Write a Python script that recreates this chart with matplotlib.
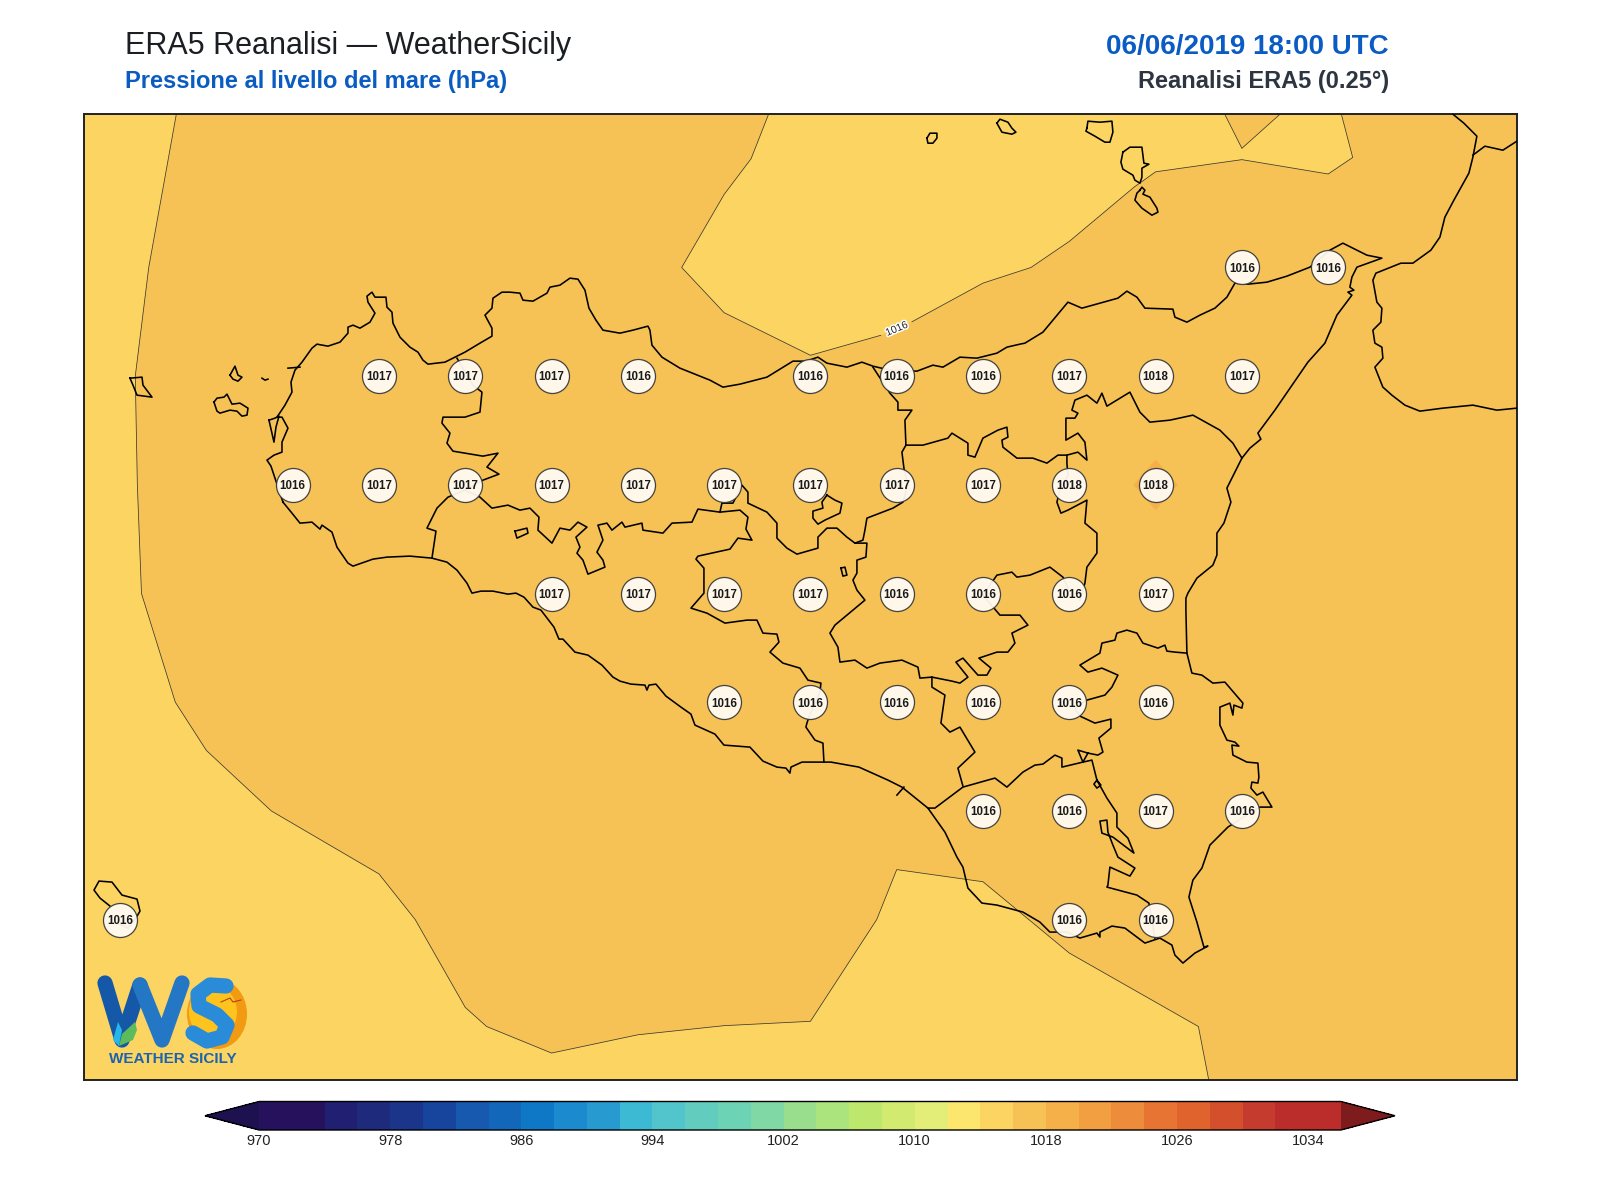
import matplotlib
matplotlib.use('Agg')
import matplotlib.pyplot as plt
import matplotlib.patheffects as pe
from matplotlib.cm import ScalarMappable
from matplotlib.colors import BoundaryNorm, ListedColormap
from matplotlib.patches import Ellipse
import numpy as np

plt.rcParams['font.family'] = ['Liberation Sans', 'DejaVu Sans']

# ERA5 grid points with the printed pressure (hPa)
STATION_LON = [15.25, 15.5,
               12.75, 13.0, 13.25, 13.5, 14.0, 14.25, 14.5, 14.75, 15.0, 15.25,
               12.5, 12.75, 13.0, 13.25, 13.5, 13.75, 14.0, 14.25, 14.5, 14.75, 15.0,
               13.25, 13.5, 13.75, 14.0, 14.25, 14.5, 14.75, 15.0,
               13.75, 14.0, 14.25, 14.5, 14.75, 15.0,
               14.5, 14.75, 15.0, 15.25,
               12.0, 14.75, 15.0]
STATION_LAT = [38.25] * 2 + [38.0] * 10 + [37.75] * 11 + [37.5] * 8 + [37.25] * 6 + [37.0] * 4 + [36.75] * 3
STATION_HPA = [1016, 1016,
               1017, 1017, 1017, 1016, 1016, 1016, 1016, 1017, 1018, 1017,
               1016, 1017, 1017, 1017, 1017, 1017, 1017, 1017, 1017, 1018, 1018,
               1017, 1017, 1017, 1017, 1016, 1016, 1016, 1017,
               1016, 1016, 1016, 1016, 1016, 1016,
               1016, 1016, 1017, 1016,
               1016, 1016, 1016]

# colour scale
LEVELS = list(range(970, 1038, 2))
TICKS = list(range(970, 1036, 8))
COLORS = ['#26125C', '#26125C', '#211F72', '#1E2A7C', '#1A3589', '#17459E', '#1659AE', '#1367BB',
          '#0E78C7', '#1B8ACF', '#279BD0', '#3CB9D3', '#52C4CB', '#62CDBF', '#6DD3B5', '#80D9A4',
          '#99DE8C', '#ABE37C', '#BEE76D', '#D2EA70', '#E2EE77', '#FCE66E', '#FCD462', '#F6C255',
          '#F5B04A', '#F29F42', '#ED8C3B', '#E77432', '#E0622D', '#D4502C', '#C53B2D', '#BB2D2B',
          '#BB2D2B']
UNDER_COLOR = '#1E1150'
OVER_COLOR = '#7E1B1C'

LON_MIN, LON_MAX = 11.894, 16.047
LAT_MIN, LAT_MAX = 36.381, 38.603

# 1016 hPa isobar, west and south side
WEST_LON = [12.163, 12.083, 12.044, 12.05, 12.062, 12.16, 12.25, 12.438, 12.75, 12.855, 13.0, 13.062,
            13.25, 13.5, 13.75, 14.0, 14.192, 14.25, 14.5, 14.75, 15.124, 15.154]
WEST_LAT = [38.603, 38.25, 38.0, 37.75, 37.5, 37.25, 37.139, 37.0, 36.855, 36.75, 36.548, 36.504,
            36.443, 36.485, 36.506, 36.516, 36.75, 36.865, 36.837, 36.673, 36.504, 36.381]
# 1016 hPa isobar, Tyrrhenian side; the gap for the contour label is between 14.204 and 14.294
NORTH_LON = [13.879, 13.828, 13.75, 13.627, 13.75, 14.0, 14.204, 14.294, 14.5, 14.639, 14.75, 14.938,
             15.0, 15.25, 15.5, 15.571, 15.538]
NORTH_LAT = [38.603, 38.5, 38.418, 38.25, 38.146, 38.048, 38.094, 38.125, 38.214, 38.25, 38.31, 38.435,
             38.47, 38.498, 38.465, 38.503, 38.603]
WEDGE_LON = [15.361, 15.25, 15.2]
WEDGE_LAT = [38.603, 38.524, 38.603]
LABEL_LON, LABEL_LAT, LABEL_HPA = 14.25, 38.109, 1016
# small 1018 hPa cell around one grid point
CELL_LON = [15.0, 15.064, 15.0, 14.936]
CELL_LAT = [37.808, 37.75, 37.692, 37.75]

# coast and province outlines, digitised in map sheet units and georeferenced below
COAST = [(283, 502), (271, 466), (267, 460), (274, 455), (282, 452), (282, 442), (288, 428), (282, 417), (277, 417),
         (285, 405), (292, 392), (291, 382), (295, 370), (302, 362), (312, 348), (317, 344), (328, 346), (340, 342),
         (348, 333), (348, 327), (353, 325), (360, 328), (370, 322), (375, 313), (368, 302), (367, 296), (372, 292),
         (375, 297), (386, 297), (387, 307), (392, 312), (393, 323), (400, 337), (410, 347), (418, 352), (423, 360),
         (428, 364), (445, 362), (465, 352), (480, 343), (492, 336), (492, 328), (485, 315), (492, 308), (493, 298),
         (502, 292), (510, 292), (520, 293), (523, 300), (533, 301), (547, 293), (550, 287), (560, 285), (570, 278),
         (578, 279), (585, 290), (589, 308), (596, 320), (603, 330), (620, 333), (633, 330), (648, 326), (650, 330),
         (652, 345), (662, 357), (680, 368), (710, 380), (723, 387), (740, 384), (767, 377), (793, 361), (806, 361),
         (818, 357), (827, 363), (847, 367), (862, 362), (873, 366), (890, 370), (917, 371), (933, 365), (943, 367),
         (960, 357), (977, 358), (997, 353), (1007, 347), (1020, 344), (1025, 343), (1043, 332), (1068, 302),
         (1082, 308), (1107, 301), (1118, 298), (1127, 291), (1137, 297), (1145, 308), (1173, 309), (1175, 317),
         (1187, 322), (1200, 315), (1215, 308), (1227, 297), (1235, 283), (1248, 284), (1267, 282), (1287, 276),
         (1310, 267), (1330, 250), (1343, 243), (1353, 248), (1367, 255), (1382, 258), (1357, 267), (1352, 277),
         (1350, 287), (1354, 290), (1348, 292), (1352, 295), (1337, 315), (1325, 343), (1308, 362), (1275, 410),
         (1258, 433), (1261, 439), (1250, 448), (1242, 458), (1227, 488), (1231, 502), (1224, 523), (1217, 533),
         (1217, 555), (1213, 565), (1197, 578), (1188, 593), (1186, 598), (1186, 610), (1187, 653), (1192, 673),
         (1202, 675), (1213, 683), (1225, 682), (1243, 703), (1242, 708), (1234, 705), (1233, 715), (1230, 703),
         (1220, 707), (1220, 725), (1227, 740), (1235, 742), (1239, 746), (1232, 745), (1233, 755), (1247, 762),
         (1258, 763), (1259, 777), (1258, 783), (1252, 782), (1251, 788), (1257, 795), (1263, 792), (1272, 807),
         (1260, 807), (1245, 816), (1228, 827), (1210, 845), (1202, 868), (1193, 880), (1189, 897), (1197, 922),
         (1204, 947), (1208, 946), (1195, 953), (1183, 963), (1175, 955), (1172, 945), (1160, 938), (1145, 943),
         (1125, 928), (1112, 926), (1100, 932), (1100, 937), (1097, 933), (1080, 938), (1067, 932), (1050, 932),
         (1040, 922), (1023, 912), (997, 905), (982, 903), (968, 888), (963, 867), (957, 857), (945, 832), (928, 808),
         (902, 787), (888, 780), (859, 767), (831, 762), (824, 762), (802, 762), (791, 767), (790, 773), (786, 768),
         (777, 767), (763, 761), (750, 747), (724, 745), (715, 734), (695, 725), (691, 714), (681, 707), (666, 696),
         (656, 684), (649, 685), (647, 690), (645, 685), (631, 684), (620, 681), (613, 677), (602, 665), (588, 655),
         (575, 652), (563, 639), (559, 639), (554, 627), (541, 610), (533, 607), (524, 597), (516, 593), (508, 594),
         (493, 591), (481, 591), (472, 593), (467, 583), (457, 570), (447, 562), (432, 558), (410, 556), (387, 557),
         (373, 559), (353, 566), (348, 563), (337, 547), (332, 532), (322, 525), (320, 529), (312, 522), (300, 523),
         (292, 513), (283, 502)]
STAGNONE = [(269, 420), (275, 418), (279, 416), (276, 427), (274, 442), (269, 420)]
TRAPANI_SPIT = [(288, 368), (300, 367)]
PUNTA_TICK = [(897, 795), (904, 787)]

TRAPANI_PALERMO = [(457, 358), (473, 385), (482, 392), (480, 412), (465, 417), (443, 417), (442, 423), (450, 433),
                   (447, 443), (453, 451), (483, 456), (498, 453), (487, 467), (499, 474), (483, 480), (465, 490),
                   (448, 497), (437, 508), (427, 528), (436, 531), (432, 558)]
PALERMO_SOUTH = [(465, 490), (480, 497), (492, 508), (508, 505), (520, 510), (530, 508), (539, 517), (538, 530),
                 (552, 543), (560, 528), (570, 530), (578, 522), (587, 527), (576, 537), (580, 547), (577, 553),
                 (583, 560), (588, 574), (605, 567), (603, 560), (597, 552), (603, 540), (598, 525), (607, 523),
                 (612, 530), (622, 522), (625, 527), (642, 523), (643, 530), (663, 533), (672, 523), (692, 522),
                 (698, 509), (720, 512), (740, 510), (748, 517), (746, 529), (752, 540), (738, 538), (730, 549),
                 (698, 556), (696, 559), (704, 568), (704, 593), (691, 608), (707, 613), (725, 623), (747, 620),
                 (757, 620), (763, 633), (777, 634), (779, 642), (770, 652), (783, 663), (800, 668), (808, 680),
                 (821, 683), (820, 692), (809, 717), (807, 723), (806, 727), (815, 740), (823, 743), (824, 762)]
PALERMO_ENNA = [(720, 512), (722, 503), (733, 503), (742, 485), (748, 492), (748, 503), (767, 512), (777, 523),
                (777, 538), (787, 548), (797, 554), (818, 548), (818, 537), (827, 528), (837, 528), (847, 537),
                (855, 543), (867, 543), (866, 557), (857, 560), (857, 573), (853, 580), (857, 590), (865, 600),
                (853, 610), (835, 625), (830, 633), (838, 647), (840, 662), (855, 660), (867, 668), (880, 663),
                (902, 660), (918, 667), (920, 678), (932, 677), (952, 681), (960, 683), (968, 677), (956, 662),
                (963, 658), (978, 675), (987, 675), (991, 668), (979, 658), (997, 652), (1008, 652), (1015, 643),
                (1012, 633), (1028, 625), (1020, 615), (1000, 615), (983, 595), (997, 575), (1012, 572), (1017, 577),
                (1030, 575), (1050, 567), (1063, 577), (1069, 590)]
ENCLAVE = [(827, 495), (835, 500), (842, 503), (840, 513), (825, 520), (818, 524), (813, 518), (813, 511), (823, 508),
           (822, 502), (827, 495)]
LAKE = [(841, 568), (845, 567), (847, 575), (843, 576), (841, 568)]
SMALL_ENCLAVE = [(515, 531), (527, 528), (528, 533), (517, 538), (515, 531)]
MESSINA_WEST = [(873, 367), (890, 393), (898, 402), (898, 410), (912, 410), (905, 420), (906, 445), (902, 452),
                (904, 468), (908, 485), (903, 502), (893, 508), (867, 518), (865, 530), (863, 540), (855, 543)]
MESSINA_SOUTH = [(906, 445), (923, 445), (948, 438), (952, 433), (968, 443), (968, 455), (975, 457), (983, 438),
                 (998, 430), (1007, 427), (1008, 437), (1002, 440), (1003, 447), (1017, 458), (1033, 458), (1047, 463),
                 (1058, 455), (1067, 455), (1078, 452), (1087, 460), (1085, 442), (1078, 433), (1066, 440), (1066, 418),
                 (1075, 418), (1078, 413), (1072, 410), (1075, 400), (1087, 395), (1097, 403), (1102, 393), (1107, 406),
                 (1130, 392), (1140, 412), (1150, 422), (1170, 420), (1193, 415), (1220, 430), (1233, 443), (1242, 458)]
CATANIA_WEST = [(1067, 455), (1067, 463), (1068, 475), (1060, 490), (1057, 502), (1061, 513), (1068, 510), (1087, 500),
                (1085, 523), (1097, 533), (1097, 553), (1087, 567), (1085, 583), (1080, 600)]
CATANIA_SOUTH = [(1187, 653), (1175, 652), (1167, 651), (1165, 645), (1158, 648), (1143, 643), (1137, 633), (1127, 630),
                 (1117, 633), (1115, 640), (1102, 643), (1100, 653), (1080, 665), (1088, 672), (1102, 668), (1118, 675),
                 (1112, 687), (1105, 695), (1087, 700), (1075, 708), (1080, 716), (1095, 723), (1111, 719), (1111, 728),
                 (1099, 738), (1103, 752), (1098, 755), (1088, 753), (1083, 762), (1078, 750), (1088, 753)]
RAGUSA_NORTH = [(1083, 762), (1062, 767), (1062, 758), (1055, 755), (1043, 764), (1035, 765), (1023, 772), (1007, 787),
                (995, 778), (963, 787), (935, 808), (928, 808)]
CALTANISSETTA_EAST = [(963, 786), (958, 768), (975, 752), (960, 727), (950, 732), (941, 723), (945, 695), (932, 687),
                      (932, 677)]
SIRACUSA_WEST = [(1083, 762), (1092, 760), (1097, 780), (1094, 784), (1097, 788), (1101, 785), (1097, 780), (1107, 798),
                 (1117, 813), (1117, 827), (1128, 838), (1134, 853), (1113, 837), (1102, 833), (1100, 821), (1107, 820),
                 (1108, 832), (1113, 845), (1118, 857), (1135, 868), (1130, 876), (1110, 867), (1108, 885), (1107, 887),
                 (1137, 895), (1149, 903), (1152, 920), (1155, 938)]

CALABRIA = [(1453, 114), (1464, 123), (1477, 136), (1473, 157), (1469, 173), (1454, 200), (1445, 217), (1440, 237),
            (1431, 250), (1413, 263), (1401, 263), (1376, 273), (1373, 280), (1377, 302), (1382, 308), (1381, 322),
            (1373, 330), (1375, 343), (1382, 347), (1383, 358), (1375, 367), (1383, 387), (1392, 395), (1405, 405),
            (1420, 411), (1443, 408), (1473, 405), (1497, 410), (1517, 408)]
CALABRIA_BORDER = [(1473, 155), (1485, 146), (1503, 150), (1517, 141)]

ALICUDI = [(927, 138), (930, 133), (937, 133), (937, 138), (933, 143), (928, 143), (927, 138)]
FILICUDI = [(997, 123), (1000, 119), (1008, 122), (1012, 128), (1016, 132), (1012, 134), (1002, 132), (997, 123)]
SALINA = [(1087, 128), (1088, 121), (1100, 122), (1112, 121), (1113, 132), (1110, 142), (1105, 142), (1095, 136),
          (1086, 131), (1087, 128)]
LIPARI = [(1123, 152), (1130, 147), (1142, 147), (1143, 155), (1144, 163), (1149, 164), (1142, 168), (1142, 177),
          (1140, 183), (1135, 180), (1133, 175), (1123, 169), (1121, 162), (1123, 152)]
VULCANO = [(1140, 190), (1142, 187), (1145, 190), (1143, 194), (1150, 197), (1157, 208), (1158, 212), (1152, 215),
           (1142, 208), (1135, 200), (1137, 193), (1140, 190)]
MARETTIMO = [(130, 378), (142, 377), (143, 385), (152, 397), (137, 395), (133, 385), (130, 378)]
LEVANZO = [(230, 375), (235, 366), (238, 375), (242, 377), (238, 381), (233, 379), (230, 375)]
FAVIGNANA = [(214, 402), (217, 398), (224, 397), (227, 394), (232, 404), (240, 403), (248, 408), (247, 415), (242, 416),
             (237, 411), (230, 410), (220, 413), (217, 411), (214, 402)]
FORMICA = [(262, 378), (265, 380), (268, 379)]
LINOSA = [(110, 906), (100, 898), (94, 890), (99, 881), (112, 882), (122, 895), (137, 899), (140, 911), (136, 918),
          (128, 928), (117, 923)]

OUTLINES = [COAST, STAGNONE, TRAPANI_SPIT, PUNTA_TICK, TRAPANI_PALERMO, PALERMO_SOUTH, PALERMO_ENNA, ENCLAVE, LAKE,
            SMALL_ENCLAVE, MESSINA_WEST, MESSINA_SOUTH, CATANIA_WEST, CATANIA_SOUTH, RAGUSA_NORTH, CALTANISSETTA_EAST,
            SIRACUSA_WEST, CALABRIA, CALABRIA_BORDER, ALICUDI, FILICUDI, SALINA, LIPARI, VULCANO, MARETTIMO, LEVANZO,
            FAVIGNANA, FORMICA, LINOSA]


def sheet_to_lonlat(points):
    pts = np.array(points, dtype=float)
    return 12.75 + (pts[:, 0] - 379) / 345.2, 38.0 - (pts[:, 1] - 376) / 434.8


cmap = ListedColormap(COLORS).with_extremes(under=UNDER_COLOR, over=OVER_COLOR)
norm = BoundaryNorm(LEVELS, len(COLORS))

fig = plt.figure(figsize=(16, 12), dpi=100)
ax = fig.add_axes([83.5 / 1600, 120 / 1200, (1517 - 83.5) / 1600, (1080 - 114) / 1200])
ax.set_facecolor(cmap(norm(1017)))
ax.set_xlim(LON_MIN, LON_MAX)
ax.set_ylim(LAT_MIN, LAT_MAX)
ax.set_xticks([])
ax.set_yticks([])
for spine in ax.spines.values():
    spine.set_linewidth(1.4)
    spine.set_color('#222222')

# shaded classes
ax.fill(WEST_LON + [LON_MIN, LON_MIN], WEST_LAT + [LAT_MIN, LAT_MAX], color=cmap(norm(1015)), lw=0, zorder=1)
ax.fill(NORTH_LON + WEDGE_LON, NORTH_LAT + WEDGE_LAT, color=cmap(norm(1015)), lw=0, zorder=1)
ax.fill(CELL_LON, CELL_LAT, color=cmap(norm(1019)), lw=0, zorder=1)

# isobar lines
line_style = dict(color='#3a3a30', lw=0.55, zorder=2)
ax.plot(WEST_LON, WEST_LAT, **line_style)
ax.plot(NORTH_LON[:7], NORTH_LAT[:7], **line_style)
ax.plot(NORTH_LON[7:], NORTH_LAT[7:], **line_style)
ax.plot(WEDGE_LON, WEDGE_LAT, **line_style)
ax.text(LABEL_LON, LABEL_LAT, str(LABEL_HPA), fontsize=7.5, color='#222222', rotation=23, ha='center', va='center',
        zorder=3, path_effects=[pe.withStroke(linewidth=2.2, foreground='white')])

for outline in OUTLINES:
    lon, lat = sheet_to_lonlat(outline)
    ax.plot(lon, lat, color='black', lw=1.15, solid_joinstyle='round', zorder=3)

ax.scatter(STATION_LON, STATION_LAT, s=600, facecolor='#FFFBF3', edgecolor='#3a3a3a', linewidth=0.9, alpha=0.95,
           zorder=4)
for lon, lat, hpa in zip(STATION_LON, STATION_LAT, STATION_HPA):
    ax.text(lon, lat - 0.003, str(hpa), fontsize=8.3, fontweight='bold', color='#1a1a1a', ha='center', va='center',
            zorder=5)

# colour bar, the axes span the bar from arrow tip to arrow tip
cax = fig.add_axes([205 / 1600, 70 / 1200, 1190 / 1600, 28.5 / 1200])
cbar = fig.colorbar(ScalarMappable(norm=norm, cmap=cmap), cax=cax, orientation='horizontal', extend='both',
                    extendfrac=0.05, spacing='uniform', ticks=TICKS)
cbar.ax.tick_params(length=0, labelsize=10.5, pad=3, colors='#222222')
cbar.outline.set_linewidth(1.0)
cbar.minorticks_off()

# headings
fig.text(124.5 / 1600, 1 - 54 / 1200, 'ERA5 Reanalisi — WeatherSicily', fontsize=22, color='#1b1f23', va='baseline')
fig.text(124.5 / 1600, 1 - 88 / 1200, 'Pressione al livello del mare (hPa)', fontsize=17, fontweight='bold',
         color='#0B5CC1', va='baseline')
fig.text(1389 / 1600, 1 - 54 / 1200, '06/06/2019 18:00 UTC', fontsize=20, fontweight='bold', color='#0A5BC4',
         ha='right', va='baseline')
fig.text(1389 / 1600, 1 - 88 / 1200, 'Reanalisi ERA5 (0.25°)', fontsize=17, fontweight='bold', color='#2D3640',
         ha='right', va='baseline')

# logo, drawn in its own overlay in figure pixels
logo = fig.add_axes([0, 0, 1, 1], facecolor='none')
logo.set_xlim(0, 1600)
logo.set_ylim(1200, 0)
logo.axis('off')
logo.add_patch(Ellipse((217, 1014), 60, 70, color='#F29A12', lw=0, zorder=10))
logo.add_patch(Ellipse((213, 1012), 48, 54, color='#FFC31E', lw=0, zorder=10))
round_stroke = dict(solid_capstyle='round', solid_joinstyle='round')
logo.plot([105, 122, 140], [983, 1040, 985], color='#1558A8', lw=11, zorder=11, **round_stroke)
logo.plot([140, 162, 182], [985, 1040, 983], color='#2377C5', lw=11, zorder=11, **round_stroke)
logo.plot([226, 210, 198, 199, 217, 227, 222, 207, 193], [986, 985, 994, 1006, 1015, 1025, 1037, 1041, 1033],
          color='#2A8BD8', lw=11, zorder=12, **round_stroke)
logo.add_patch(plt.Polygon([(119, 1046), (122, 1034), (135, 1022), (137, 1030), (133, 1040)], color='#5CBB5B', lw=0,
                           zorder=13))
logo.add_patch(plt.Polygon([(113, 1040), (118, 1022), (122, 1030), (119, 1046)], color='#26B6E8', lw=0, zorder=13))
logo.plot([221, 230, 233, 241], [1002, 998, 1002, 1000], color='#B5401A', lw=0.8, zorder=13)
logo.text(173, 1059, 'WEATHER SICILY', fontsize=11, fontweight='bold', color='#1C63AE', ha='center', va='center',
          zorder=13)

plt.savefig('out.png', dpi=100)
